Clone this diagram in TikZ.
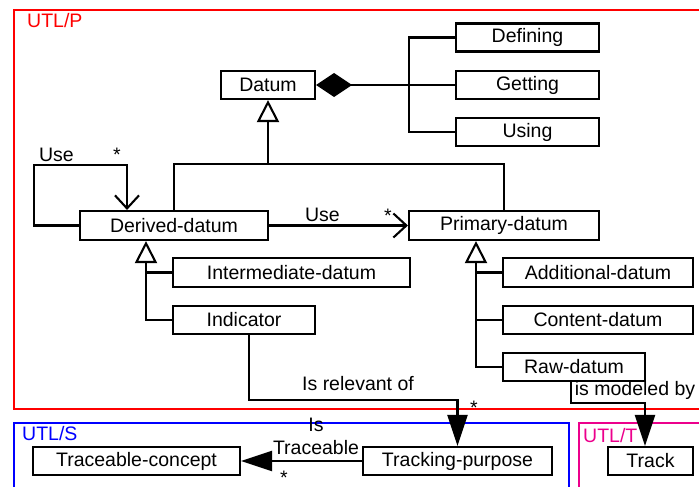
\documentclass[tikz,border=0pt]{standalone}
\usepackage{fontspec}
\setmainfont{Liberation Sans}
\usetikzlibrary{arrows.meta}
\begin{document}
\begin{tikzpicture}[x=1pt,y=-1pt,
  every node/.style={font=\fontsize{19.5}{23}\selectfont, inner sep=0pt},
  cls/.style={draw, line width=2.1pt, minimum height=28pt, fill=white},
  conn/.style={line width=2.1pt},
  star/.style={anchor=base},
  useto/.style={conn, -{Straight Barb[length=13pt, width=24pt, line width=2.1pt]}},
  gen/.style={conn, -{Triangle[open, length=22pt, width=22pt, fill=white, line width=2.1pt]}},
  nav/.style={conn, -{Triangle[length=31pt, width=20pt]}},
  comp/.style={conn, {Diamond[length=36pt, width=24pt]}-},
  frame/.style={line width=2pt}]
\useasboundingbox (0,0) rectangle (699,487);
\clip (0,0) rectangle (699,487);

% package frames
\draw[frame, red] (14,10) rectangle (740,409);
\draw[frame, blue] (14,423) rectangle (569,520);
\draw[frame, magenta] (579,423) rectangle (740,520);
\node[red, anchor=west] (pkgP) at (27,21) {UTL/P};
\node[blue, anchor=west] (pkgS) at (22,434) {UTL/S};
\node[magenta, anchor=west] (pkgT) at (583,436) {UTL/T};

% classes
\node[cls, minimum width=94pt] (datum) at (268,85) {Datum};
\node[cls, minimum width=143pt] (def) at (527.5,37.5) {Defining};
\node[cls, minimum width=143pt] (get) at (527.5,85) {Getting};
\node[cls, minimum width=143pt] (usg) at (527.5,132) {Using};
\node[cls, minimum width=188pt, minimum height=29pt] (der) at (174,225.5) {Derived-datum};
\node[cls, minimum width=190pt, minimum height=29pt] (prim) at (504,225.5) {Primary-datum};
\node[cls, minimum width=237pt, minimum height=29pt] (inter) at (291.5,272.5) {Intermediate-datum};
\node[cls, minimum width=142pt] (ind) at (244,320) {Indicator};
\node[cls, minimum width=190pt, minimum height=29pt] (add) at (598,272.5) {Additional-datum};
\node[cls, minimum width=190pt] (cont) at (598,320) {Content-datum};
\node[cls, minimum width=142pt] (raw) at (574,367) {Raw-datum};
\node[cls, minimum width=207pt] (tc) at (136.5,461) {Traceable-concept};
\node[cls, minimum width=189pt] (tp) at (457.5,461) {Tracking-purpose};
\node[cls, minimum width=85pt] (track) at (650.5,461) {Track};

% composition of Datum
\coordinate (cj) at (409,85);
\draw[comp] (datum.east) -- (cj);
\draw[conn] (cj) -- (get.west);
\draw[conn] (cj) |- (def.west);
\draw[conn] (cj) |- (usg.west);

% generalisation to Datum
\coordinate (gj) at (268,164);
\draw[conn] (der.north) |- (gj) -| (prim.north);
\draw[gen] (gj) -- (datum.south);

% self association of Derived-datum
\coordinate (la) at (34,165);
\coordinate (lb) at (127,165);
\draw[useto] (der.west) -| (la) -- (lb) -- (der.north -| lb);
\node (use1) at (56.5,155) {Use};
\node[star] (st1) at (117,161) {*};

% Derived-datum uses Primary-datum
\draw[useto] (der.east) -- (prim.west);
\node (use2) at (322.5,215) {Use};
\node[star] (st2) at (388,222) {*};

% specialisations of Derived-datum
\coordinate (ds) at (146,320);
\draw[gen] (ind.west) -| (der.south -| ds);
\draw[conn] (inter.west) -- (inter.west -| ds);

% specialisations of Primary-datum
\coordinate (ps) at (476,367);
\draw[gen] (raw.west) -| (prim.south -| ps);
\draw[conn] (add.west) -- (add.west -| ps);
\draw[conn] (cont.west) -- (cont.west -| ps);

% Indicator is relevant of Tracking-purpose
\coordinate (ia) at (249,400);
\draw[nav] (ind.south -| ia) -- (ia) -| (tp.north);
\node (rel) at (358,384) {Is relevant of};
\node[star] (st3) at (474,414) {*};

% Tracking-purpose to Traceable-concept
\draw[nav] (tp.west) -- (tc.east);
\node[align=center] (trc) at (316,436.5) {Is\\Traceable};
\node[star] (st4) at (284,484) {*};

% Raw-datum is modeled by Track
\coordinate (ra) at (571,403);
\coordinate (rb) at (645,403);
\draw[nav] (raw.south -| ra) -- (ra) -- (rb) -- (track.north -| rb);
\node (mod) at (635,390) {is modeled by};
\end{tikzpicture}
\end{document}
